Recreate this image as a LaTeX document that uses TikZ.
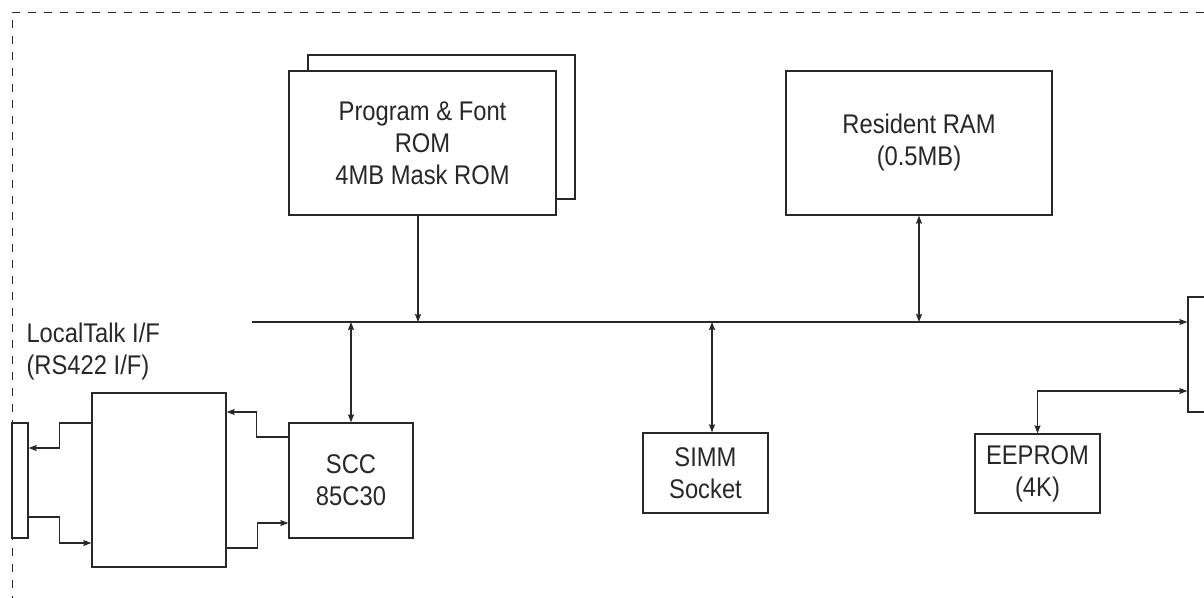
\documentclass[tikz,border=0pt]{standalone}
\usepackage{fontspec}
\setmainfont{Liberation Sans}[FakeStretch=0.88]
\usetikzlibrary{
  arrows.meta,
  positioning,
  calc
}
\definecolor{ink}{RGB}{40,40,40}

\begin{document}
\begin{tikzpicture}[
  x=1pt, y=-1pt,
  every node/.style={font=\fontsize{27}{32}\selectfont, text=ink},
  block/.style={draw=ink, line width=1.3pt, fill=white, align=center, inner sep=0pt},
  link/.style={draw=ink, line width=1.2pt},
  >={Stealth[length=8pt, width=6pt, inset=1pt]}
]

\useasboundingbox (0,0) rectangle (1204,597);

% board outline
\draw[ink, line width=1pt, dash pattern=on 8pt off 8pt] (12,700) -- (12,12) -- (1300,12);

% memories
\node[block, minimum width=267pt, minimum height=144pt] (romback) at (441.5,127) {};
\node[block, minimum width=267pt, minimum height=144pt] (rom) at (422.5,143)
  {Program \& Font\\ROM\\4MB Mask ROM};
\node[block, minimum width=266pt, minimum height=144pt] (ram) at (919,143)
  {Resident RAM\\(0.5MB)};

% controller on the right edge
\node[block, minimum width=42pt, minimum height=115pt] (ctrl) at (1209,354.5) {};

% bus
\coordinate (bus) at (252,322);
\draw[link, ->] (bus) -- (bus -| ctrl.west);

% lower blocks
\node[block, minimum width=124pt, minimum height=115pt] (scc) at (351,480.5) {SCC\\85C30};
\node[block, minimum width=125pt, minimum height=80pt] (simm) at (705.5,473) {SIMM\\Socket};
\node[block, minimum width=125pt, minimum height=79pt] (eeprom) at (1037.5,473.5) {EEPROM\\(4K)};
\node[block, minimum width=134pt, minimum height=174pt] (iface) at (159,480) {};
\node[block, minimum width=16pt, minimum height=115pt] (conn) at (20,480.5) {};

\node[anchor=west, align=left] (lt) at (23,352) {LocalTalk I/F\\(RS422 I/F)};

% bus connections
\draw[link, ->] ([xshift=-4.5pt]rom.south) -- ([xshift=-4.5pt]rom.south |- bus);
\draw[link, <->] (ram.south) -- (ram.south |- bus);
\draw[link, <->] (scc.north) -- (scc.north |- bus);
\draw[link, <->] ([xshift=6.5pt]simm.north) -- ([xshift=6.5pt]simm.north |- bus);
\draw[link, <->] (eeprom.north) |- ([yshift=-36.5pt]ctrl.west);

% serial lines
\draw[link, ->] ([yshift=43.5pt]scc.west) -- ++(-32,0) |- ([yshift=68pt]iface.east);
\draw[link, ->] ([yshift=-68pt]iface.east) -- ++(31,0) |- ([yshift=-42.5pt]scc.west);
\draw[link, ->] ([yshift=57pt]iface.west) -- ++(-32,0) |- ([yshift=32.5pt]conn.east);
\draw[link, ->] ([yshift=-36.5pt]conn.east) -- ++(31,0) |- ([yshift=-63pt]iface.west);

\end{tikzpicture}
\end{document}
